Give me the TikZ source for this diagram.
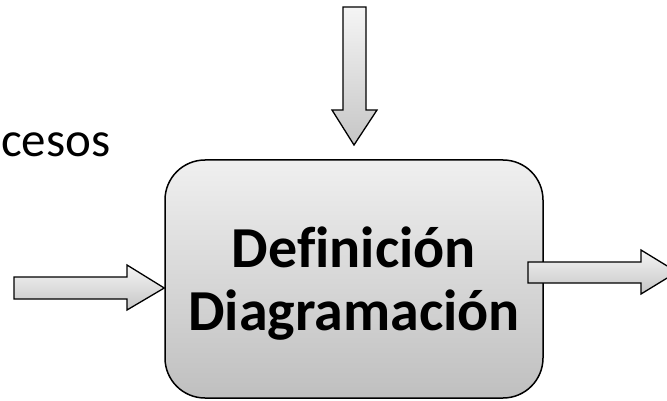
\documentclass[tikz,border=0pt]{standalone}
\usepackage{fontspec}
\setmainfont{Carlito}[Ligatures=NoCommon]
\begin{document}
\begin{tikzpicture}[x=1pt,y=-1pt,
  arrowfill/.style={draw=black,line width=1.3pt,line join=miter,top color=gray!8,bottom color=gray!45},
  boxstyle/.style={draw=black,line width=1.5pt,rounded corners=40pt,top color=gray!12,bottom color=gray!50,
    minimum width=378pt,minimum height=238pt,inner sep=0pt},
  boxtext/.style={anchor=base,inner sep=0pt,font=\fontsize{58}{63}\selectfont\bfseries}]
\useasboundingbox (0,0) rectangle (667,401);
\node[boxstyle] (box) at (354,279) {};
\node[boxtext] (l1) at (354,267) {Definición};
\node[boxtext] (l2) at (354,330) {Diagramación};
\node[anchor=base west,inner sep=0pt,font=\fontsize{49}{60}\selectfont] (lbl) at (1,157) {cesos};
% top arrow
\coordinate (tt) at (box.north |- 0,145);
\draw[arrowfill] (343,7) -- (366,7) -- (366,110) -- (377,110) -- (tt) -- (332,110) -- (343,110) -- cycle;
% left arrow
\coordinate (lt) at (box.west |- 0,288);
\draw[arrowfill] (14,277) -- (127,277) -- (127,265) -- (lt) -- (127,310) -- (127,299) -- (14,299) -- cycle;
% right arrow
\coordinate (rs) at (528,272);
\draw[arrowfill] (rs |- 0,262) -- (641,262) -- (641,250) -- (677,272) -- (641,294) -- (641,283) -- (rs |- 0,283) -- cycle;
\end{tikzpicture}
\end{document}
